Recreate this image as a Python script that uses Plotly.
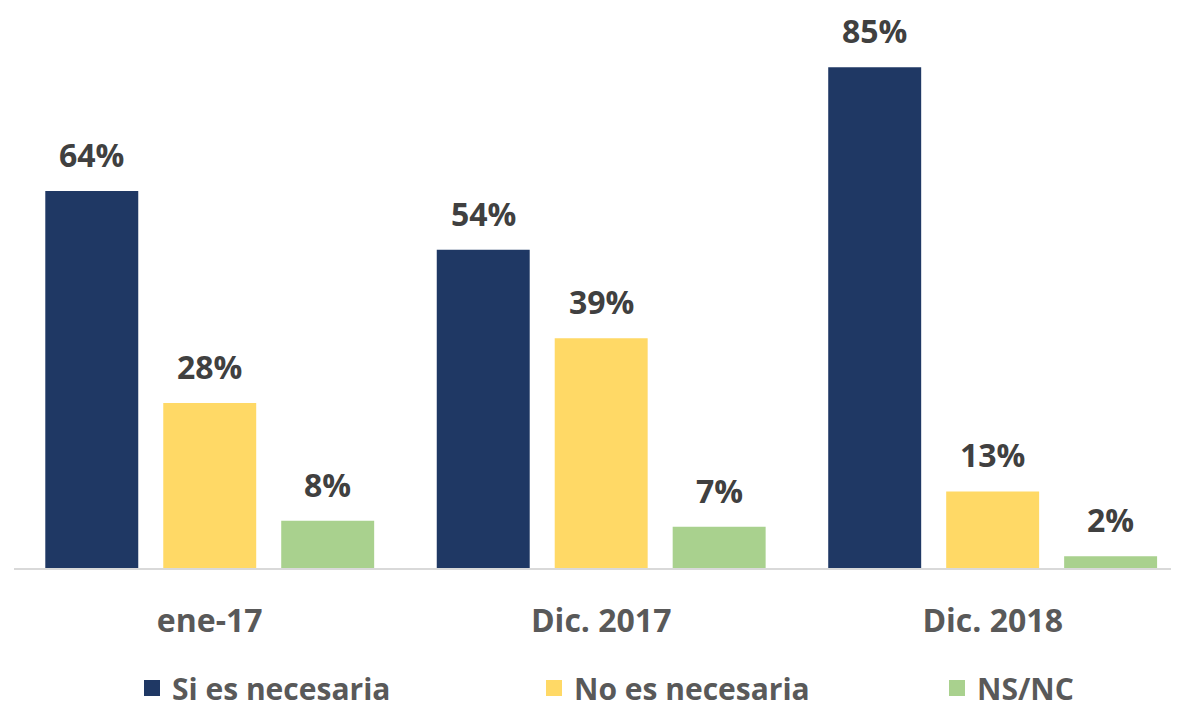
import plotly.graph_objects as go

# ── Données ──────────────────────────────────────────────────────────────────
periodos = ["ene-17", "Dic. 2017", "Dic. 2018"]
series = ["Si es necesaria", "No es necesaria", "NS/NC"]
si_necesaria = [64, 54, 85]
no_necesaria = [28, 39, 13]
ns_nc = [8, 7, 2]

COULEURS = ["#1F3864", "#FFD966", "#A9D18E"]
FONT = "'Open Sans', sans-serif"

valores = [si_necesaria, no_necesaria, ns_nc]

# the page body adds an 8px margin, so the figure is drawn 8px smaller
W, H = 1171, 703
LEG_X = [124, 526, 929]  # left edge of each legend entry (px)

fig = go.Figure()
legend_ids = ["legend", "legend2", "legend3"]
for nombre, vals, col, lid in zip(series, valores, COULEURS, legend_ids):
    fig.add_trace(go.Bar(
        x=periodos, y=vals, name=nombre, marker_color=col,
        marker_line_width=0, showlegend=False,
    ))
    # legend proxy with a bigger square
    fig.add_trace(go.Scatter(
        x=[None], y=[None], mode="markers", name=nombre, legend=lid,
        marker=dict(symbol="square", size=18, color=col),
    ))

# value labels above bars
slot = 0.3014
for j, vals in enumerate(valores):
    for i, v in enumerate(vals):
        fig.add_annotation(
            x=i + (j - 1) * slot, y=v, text=f"<b>{v}%</b>",
            showarrow=False, yanchor="bottom", yshift=13,
            font=dict(family=FONT, size=32, color="#404040"),
        )

leg_base = dict(
    orientation="h", xref="container", xanchor="left",
    yref="container", y=23 / H, yanchor="middle",
    font=dict(family=FONT, size=30, color="#595959", weight="bold"),
    itemsizing="trace", bgcolor="rgba(0,0,0,0)",
)
fig.update_layout(
    width=W, height=H,
    paper_bgcolor="white", plot_bgcolor="white",
    margin=dict(l=6, r=0, t=12, b=143, autoexpand=False),
    barmode="group", bargap=0.096, bargroupgap=0.212,
    font=dict(family=FONT, color="#595959"),
    legend=dict(leg_base, x=LEG_X[0] / W),
    legend2=dict(leg_base, x=LEG_X[1] / W),
    legend3=dict(leg_base, x=LEG_X[2] / W),
)
fig.update_xaxes(
    range=[-0.5, 2.476], showline=True, linecolor="#D9D9D9", linewidth=2,
    showgrid=False, ticks="", ticklabelstandoff=24, automargin=False,
    tickfont=dict(family=FONT, size=32, color="#595959", weight="bold"),
)
fig.update_yaxes(range=[0, 93], visible=False, automargin=False)

fig.write_html("out.html")
